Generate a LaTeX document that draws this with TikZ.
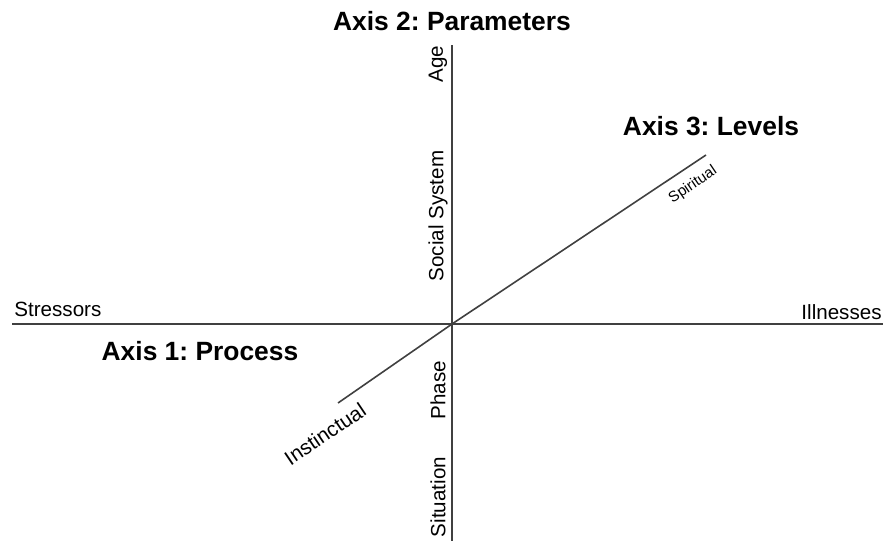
\documentclass[tikz,border=0pt]{standalone}
\usepackage{fontspec}
\setmainfont{Liberation Sans}
\usetikzlibrary{positioning}
\frenchspacing

\begin{document}
\begin{tikzpicture}
	[x=0.5pt,y=-0.5pt,
	 axis/.style={line width=0.8pt,black!75},
	 axistitle/.style={font=\fontsize{13.2}{15}\selectfont\bfseries,inner sep=0pt},
	 axislabel/.style={font=\fontsize{10.3}{12}\selectfont,inner sep=0pt},
	 smalllabel/.style={font=\fontsize{7.5}{9}\selectfont,inner sep=0pt}]
	\useasboundingbox (0,0) rectangle (883,546);
	% axis ends
	\coordinate (origin) at (452,324);
	\coordinate (stressend) at (12,324);
	\coordinate (illend) at (883,324);
	\coordinate (top) at (452,45);
	\coordinate (bottom) at (452,541);
	\coordinate (lowend) at (338,403);
	\coordinate (highend) at (706,155);
	\draw[axis] (stressend) -- (illend);
	\draw[axis] (top) -- (bottom);
	\draw[axis] (lowend) -- (origin) -- (highend);
	% titles
	\node[axistitle] (param) at (452,21) {Axis 2: Parameters};
	\node[axistitle] (levels) at (711,126) {Axis 3: Levels};
	\node[axistitle] (process) at (200,351) {Axis 1: Process};
	% axis 1
	\node[axislabel,anchor=west] (stress) at (14,309) {Stressors};
	\node[axislabel,anchor=east] (ill) at (882,312) {Illnesses};
	% axis 2
	\node[axislabel,rotate=90] (age) at (438,64) {Age};
	\node[axislabel,rotate=90] (social) at (438,216) {Social System};
	\node[axislabel,rotate=90] (phase) at (438,390) {Phase};
	\node[axislabel,rotate=90] (situation) at (438,497) {Situation};
	% axis 3
	\node[smalllabel,rotate=34] (spirit) at (693,185) {Spiritual};
	\node[axislabel,rotate=34] (instinct) at (325,434) {Instinctual};
\end{tikzpicture}
\end{document}
